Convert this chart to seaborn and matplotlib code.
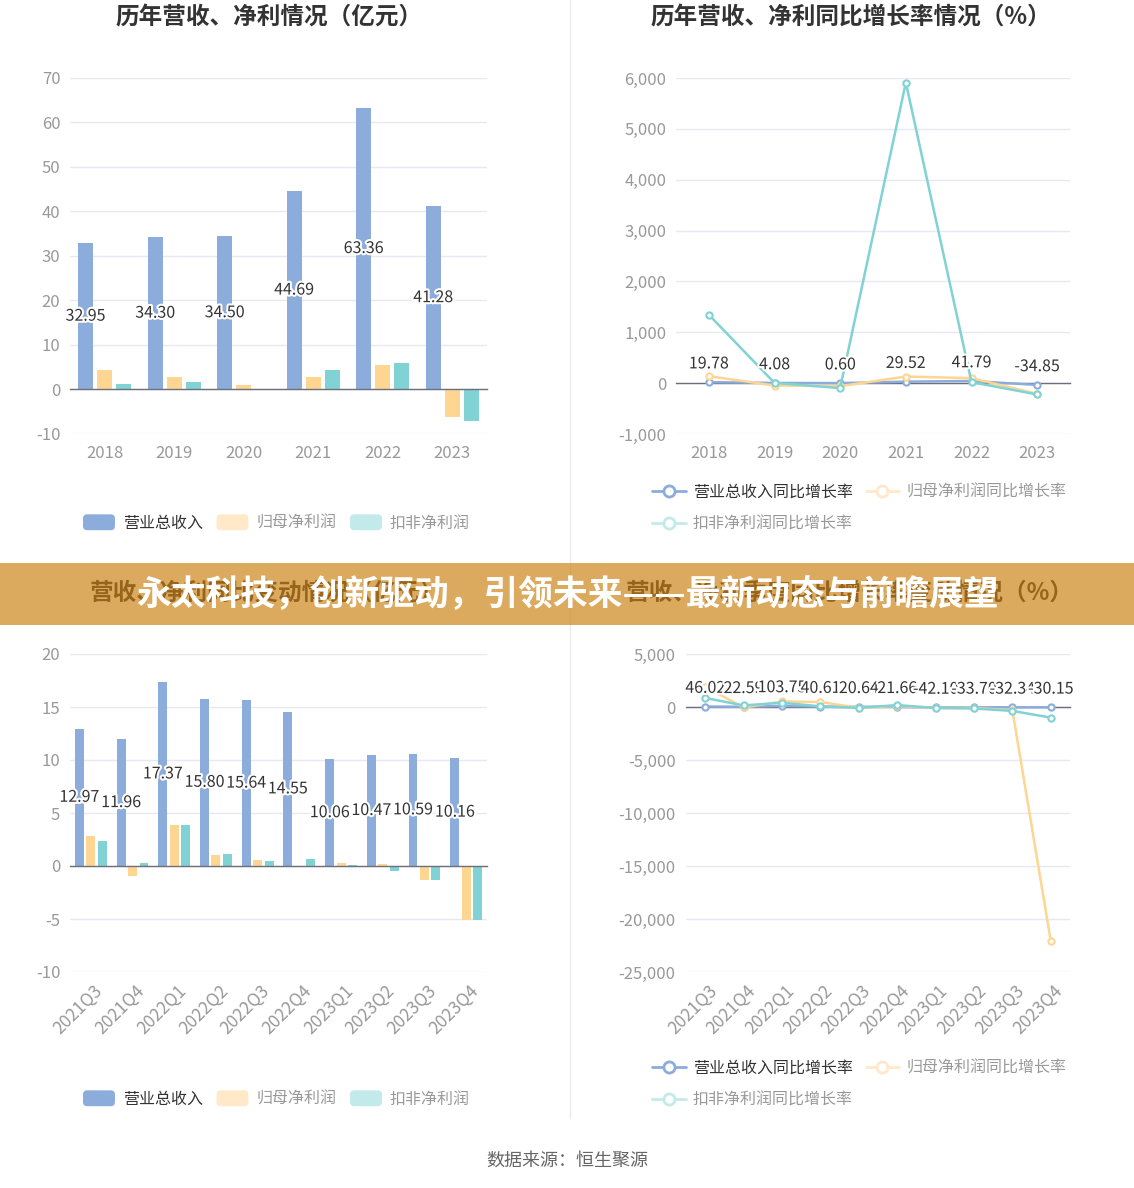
import matplotlib
matplotlib.use('Agg')
import matplotlib.pyplot as plt
import matplotlib.patheffects as pe
from matplotlib.patches import Patch, FancyBboxPatch, Rectangle
from matplotlib.lines import Line2D
from matplotlib.legend_handler import HandlerPatch
from matplotlib.ticker import MultipleLocator, FuncFormatter
import numpy as np
import pandas as pd
import seaborn as sns

# ---- data ----
years = ['2018', '2019', '2020', '2021', '2022', '2023']
rev_y = [32.95, 34.30, 34.50, 44.69, 63.36, 41.28]
np_y = [4.45, 2.7, 1.1, 2.7, 5.5, -6.2]
kf_y = [1.3, 1.6, 0.05, 4.3, 5.9, -7.0]

rev_gy = [19.78, 4.08, 0.60, 29.52, 41.79, -34.85]
np_gy = [137, -47, -60, 130, 98, -210]
kf_gy = [1345, 5, -98, 5910, 20, -223]

quarters = ['2021Q3', '2021Q4', '2022Q1', '2022Q2', '2022Q3',
            '2022Q4', '2023Q1', '2023Q2', '2023Q3', '2023Q4']
rev_q = [12.97, 11.96, 17.37, 15.80, 15.64, 14.55, 10.06, 10.47, 10.59, 10.16]
np_q = [2.8, -0.9, 3.9, 1.05, 0.6, 0.02, 0.3, 0.18, -1.3, -5.1]
kf_q = [2.4, 0.25, 3.85, 1.13, 0.5, 0.62, 0.12, -0.47, -1.35, -5.05]

rev_gq = [46.02, 22.59, 103.75, 40.61, 20.64, 21.66, -42.10, -33.70, -32.34, -30.15]
np_gq = [1900, -40, 520, 470, -79, 102, -92, -83, -317, -22100]
kf_gq = [850, 150, 400, 60, -79, 180, -97, -140, -370, -1000]

bar_series = ['营业总收入', '归母净利润', '扣非净利润']
line_series = ['营业总收入同比增长率', '归母净利润同比增长率', '扣非净利润同比增长率']

BLUE, YELLOW, TEAL = '#8CACDB', '#FFD592', '#80D2D5'
YELLOW_L, TEAL_L = '#FFE9C9', '#C3EAEB'
GRID, AXIS, TICK, DARK = '#E6E9F1', '#6E7079', '#999999', '#333333'

W, H = 1134, 1188
sns.set_style('white')
plt.rcParams['font.family'] = ['Noto Sans CJK SC', 'DejaVu Sans']
plt.rcParams['axes.unicode_minus'] = False

fig = plt.figure(figsize=(W / 100, H / 100), dpi=100)
halo = [pe.withStroke(linewidth=3, foreground='white')]


def px_axes(l, t, r, b):
    return fig.add_axes([l / W, 1 - b / H, (r - l) / W, (b - t) / H])


def style_axes(ax, n, ylo, yhi, step, pad):
    ax.set_xlim(-0.5, n - 0.5)
    ax.set_ylim(ylo, yhi)
    ax.yaxis.set_major_locator(MultipleLocator(step))
    ax.yaxis.set_major_formatter(FuncFormatter(lambda v, p: f'{v:,.0f}'))
    ax.grid(axis='y', color=GRID, lw=1)
    ax.set_axisbelow(True)
    for s in ['top', 'right', 'left']:
        ax.spines[s].set_visible(False)
    ax.spines['bottom'].set_position(('data', 0))
    ax.spines['bottom'].set_color(AXIS)
    ax.spines['bottom'].set_linewidth(1)
    ax.set_xticks(range(n))
    ax.tick_params(axis='x', length=5, width=1, color=AXIS, labelbottom=False)
    ax.tick_params(axis='y', length=0, pad=pad, labelsize=12, labelcolor=TICK)
    ax.set_xlabel('')
    ax.set_ylabel('')


def x_labels(ax, labels, rotate=False):
    for i, lab in enumerate(labels):
        if rotate:
            ax.annotate(lab, xy=(i, 0), xycoords=ax.get_xaxis_transform(),
                        xytext=(2, -7), textcoords='offset points', rotation=45,
                        rotation_mode='anchor', ha='right', va='top',
                        fontsize=12.5, color=TICK)
        else:
            ax.annotate(lab, xy=(i, 0), xycoords=ax.get_xaxis_transform(),
                        xytext=(0, -8), textcoords='offset points',
                        ha='center', va='top', fontsize=12, color=TICK)


def bar_panel(ax, cats, rev, npf, kf):
    df = pd.DataFrame({'period': cats * 3, 'value': rev + npf + kf,
                       'series': np.repeat(bar_series, len(cats))})
    sns.barplot(data=df, x='period', y='value', hue='series', hue_order=bar_series,
                palette=[BLUE, YELLOW, TEAL], width=0.825, gap=0.22, saturation=1,
                errorbar=None, legend=False, linewidth=0, ax=ax)
    ax.bar_label(ax.containers[0], labels=[f'{v:.2f}' for v in rev],
                 label_type='center', fontsize=11.5, color=DARK, path_effects=halo)


def line_panel(ax, cats, rev, npf, kf):
    n = len(cats)
    df = pd.DataFrame({'idx': np.tile(np.arange(n), 3), 'value': rev + npf + kf,
                       'series': np.repeat(line_series, n)})
    sns.lineplot(data=df, x='idx', y='value', hue='series', hue_order=line_series,
                 palette=[BLUE, YELLOW, TEAL], lw=1.8, marker='o', ms=4.5,
                 errorbar=None, legend=False, sort=False, ax=ax)
    for ln in ax.lines:
        ln.set_markerfacecolor('white')
        ln.set_markeredgecolor(ln.get_color())
        ln.set_markeredgewidth(1.5)
        ln.set_zorder(3)
    for i, v in enumerate(rev):
        ax.annotate(f'{v:.2f}', xy=(i, v), xytext=(0, 7), textcoords='offset points',
                    ha='center', va='bottom', fontsize=11.5, color=DARK,
                    path_effects=halo, zorder=4)


def round_patch(legend, orig_handle, xdescent, ydescent, width, height, fontsize):
    return FancyBboxPatch((-xdescent, -ydescent), width, height,
                          boxstyle='round,pad=0,rounding_size=3')


def bar_legend(ax, x, y):
    handles = [Patch(fc=c, ec='none', label=l)
               for c, l in zip([BLUE, YELLOW_L, TEAL_L], bar_series)]
    leg = ax.legend(handles=handles, loc='center left', bbox_to_anchor=(x / W, 1 - y / H),
                    bbox_transform=fig.transFigure, ncol=3, frameon=False, fontsize=11.5,
                    handlelength=2.0, handleheight=1.15, handletextpad=0.5,
                    columnspacing=0.85, borderpad=0, borderaxespad=0,
                    handler_map={Patch: HandlerPatch(patch_func=round_patch)})
    for t, c in zip(leg.get_texts(), [DARK, TICK, TICK]):
        t.set_color(c)


def line_legend(ax, x, y):
    cols = [BLUE, YELLOW_L, TEAL_L]
    hs = [Line2D([], [], color=c, lw=2, marker='o', ms=8, mfc='white', mec=c, mew=2, label=l)
          for c, l in zip(cols, line_series)]
    order = [0, 2, 1]
    leg = ax.legend(handles=[hs[i] for i in order], loc='center left',
                    bbox_to_anchor=(x / W, 1 - y / H), bbox_transform=fig.transFigure,
                    ncol=2, frameon=False, fontsize=11.5, handlelength=2.1,
                    handletextpad=0.45, columnspacing=0.8, labelspacing=0.95,
                    borderpad=0, borderaxespad=0)
    for t, i in zip(leg.get_texts(), order):
        t.set_color(DARK if i == 0 else TICK)


# ---- top left: yearly revenue / profit ----
ax1 = px_axes(70, 78, 487, 434)
bar_panel(ax1, years, rev_y, np_y, kf_y)
style_axes(ax1, 6, -10, 70, 10, 7)
x_labels(ax1, years)
bar_legend(ax1, 83, 523)

# ---- top right: yearly growth ----
ax2 = px_axes(676, 78, 1070, 434)
line_panel(ax2, years, rev_gy, np_gy, kf_gy)
style_axes(ax2, 6, -1000, 6000, 1000, 7)
x_labels(ax2, years)
line_legend(ax2, 652, 508)

# ---- bottom left: quarterly revenue / profit ----
ax3 = px_axes(70, 654, 487, 972)
bar_panel(ax3, quarters, rev_q, np_q, kf_q)
style_axes(ax3, 10, -10, 20, 5, 7)
x_labels(ax3, quarters, rotate=True)
bar_legend(ax3, 83, 1099)

# ---- bottom right: quarterly growth ----
ax4 = px_axes(686, 654, 1070, 972)
line_panel(ax4, quarters, rev_gq, np_gq, kf_gq)
style_axes(ax4, 10, -25000, 5000, 5000, 7.5)
x_labels(ax4, quarters, rotate=True)
line_legend(ax4, 652, 1084)

# ---- titles, banner, footer ----
fig.text(269 / W, 1 - 18 / H, '历年营收、净利情况（亿元）', ha='center', va='center',
         fontsize=17, fontweight='bold', color=DARK)
fig.text(851 / W, 1 - 18 / H, '历年营收、净利同比增长率情况（%）', ha='center', va='center',
         fontsize=17, fontweight='bold', color=DARK)
fig.text(267 / W, 1 - 593 / H, '营收、净利同比变动情况（亿元）', ha='center', va='center',
         fontsize=17, fontweight='bold', color=DARK, zorder=4)
fig.text(850 / W, 1 - 593 / H, '营收、净利季度同比增长率变动情况（%）', ha='center', va='center',
         fontsize=17, fontweight='bold', color=DARK, zorder=4)

fig.add_artist(Line2D([570 / W, 570 / W], [1 - 1118 / H, 1], color='#EBEBEB', lw=1, zorder=1))
fig.add_artist(Rectangle((0, 1 - 625 / H), 1, 62 / H, transform=fig.transFigure,
                         facecolor=(202 / 255, 126 / 255, 13 / 255), alpha=0.66,
                         edgecolor='none', zorder=5))
fig.text(567 / W, 1 - 595 / H, '永太科技，创新驱动，引领未来——最新动态与前瞻展望',
         ha='center', va='center', fontsize=25, fontweight='bold', color='white', zorder=6)
fig.text(567 / W, 1 - 1161 / H, '数据来源：恒生聚源', ha='center', va='center',
         fontsize=13, color='#666666')

fig.savefig('out.png', dpi=100)
